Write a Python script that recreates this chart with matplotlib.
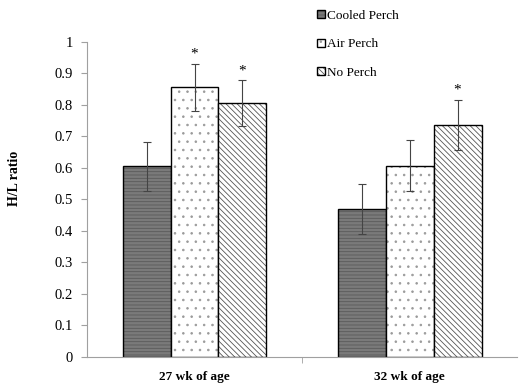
import numpy as np
import matplotlib.pyplot as plt
import matplotlib as mpl

mpl.rcParams['hatch.linewidth'] = 0.6

groups = ['27 wk of age', '32 wk of age']
series = ['Cooled Perch', 'Air Perch', 'No Perch']
values = [[0.605, 0.47], [0.855, 0.607], [0.805, 0.735]]
errors = [[0.078, 0.08], [0.074, 0.08], [0.073, 0.08]]
stars = [[False, False], [True, False], [True, True]]

faces = ['#7a7a7a', 'white', 'white']
hatch_cols = ['#5a5a5a', '#9a9a9a', '#555555']
hatches = ['-----', '..', '\\\\\\\\\\\\']

fig = plt.figure(figsize=(5.32, 3.87), dpi=100)
ax = fig.add_axes([0.1635, 0.078, 0.8085, 0.814])

x = np.arange(len(groups))
w = 0.223
handles = []
for i in range(3):
    pos = x + (i - 1) * w
    b = ax.bar(pos, values[i], w, color=faces[i], edgecolor='black', linewidth=1.0,
               hatch=hatches[i], zorder=2)
    for p in b:
        p._hatch_color = mpl.colors.to_rgba(hatch_cols[i])
    ax.errorbar(pos, values[i], yerr=errors[i], fmt='none', ecolor='#444444',
                elinewidth=0.8, capsize=3, capthick=0.8, zorder=3)
    for j in range(len(groups)):
        if stars[i][j]:
            ax.text(pos[j], values[i][j] + errors[i][j] + 0.01, '*', ha='center', va='bottom',
                    fontsize=11, family='Liberation Serif')
    handles.append(b)

ax.set_xlim(-0.5, 1.5)
ax.set_ylim(0, 1)
ax.set_yticks(np.arange(0, 1.01, 0.1))
ax.set_yticklabels(['0'] + ['%.1f' % v for v in np.arange(0.1, 0.95, 0.1)] + ['1'],
                   family='Liberation Serif', fontsize=10.5)
ax.set_xticks(x)
ax.set_xticklabels(groups, family='Liberation Serif', fontsize=9.5, fontweight='bold')
ax.set_xticks([0.5], minor=True)
ax.tick_params(axis='x', which='major', length=0, pad=10)
ax.tick_params(axis='x', which='minor', length=4, color='#a0a0a0')
ax.tick_params(axis='y', length=4, color='#a0a0a0', pad=6)
for s in ['top', 'right']:
    ax.spines[s].set_visible(False)
for s in ['left', 'bottom']:
    ax.spines[s].set_color('#a0a0a0')
ax.set_ylabel('H/L ratio', family='Liberation Serif', fontsize=10, fontweight='bold')
ax.yaxis.set_label_coords(-0.153, 0.567)

fig.legend(handles, series, loc='upper left', bbox_to_anchor=(0.573, 1.005), frameon=False,
           prop={'family': 'Liberation Serif', 'size': 9.5}, handlelength=0.6, handleheight=0.6,
           handletextpad=0.2, labelspacing=1.25)

fig.savefig('out.png', dpi=100)
